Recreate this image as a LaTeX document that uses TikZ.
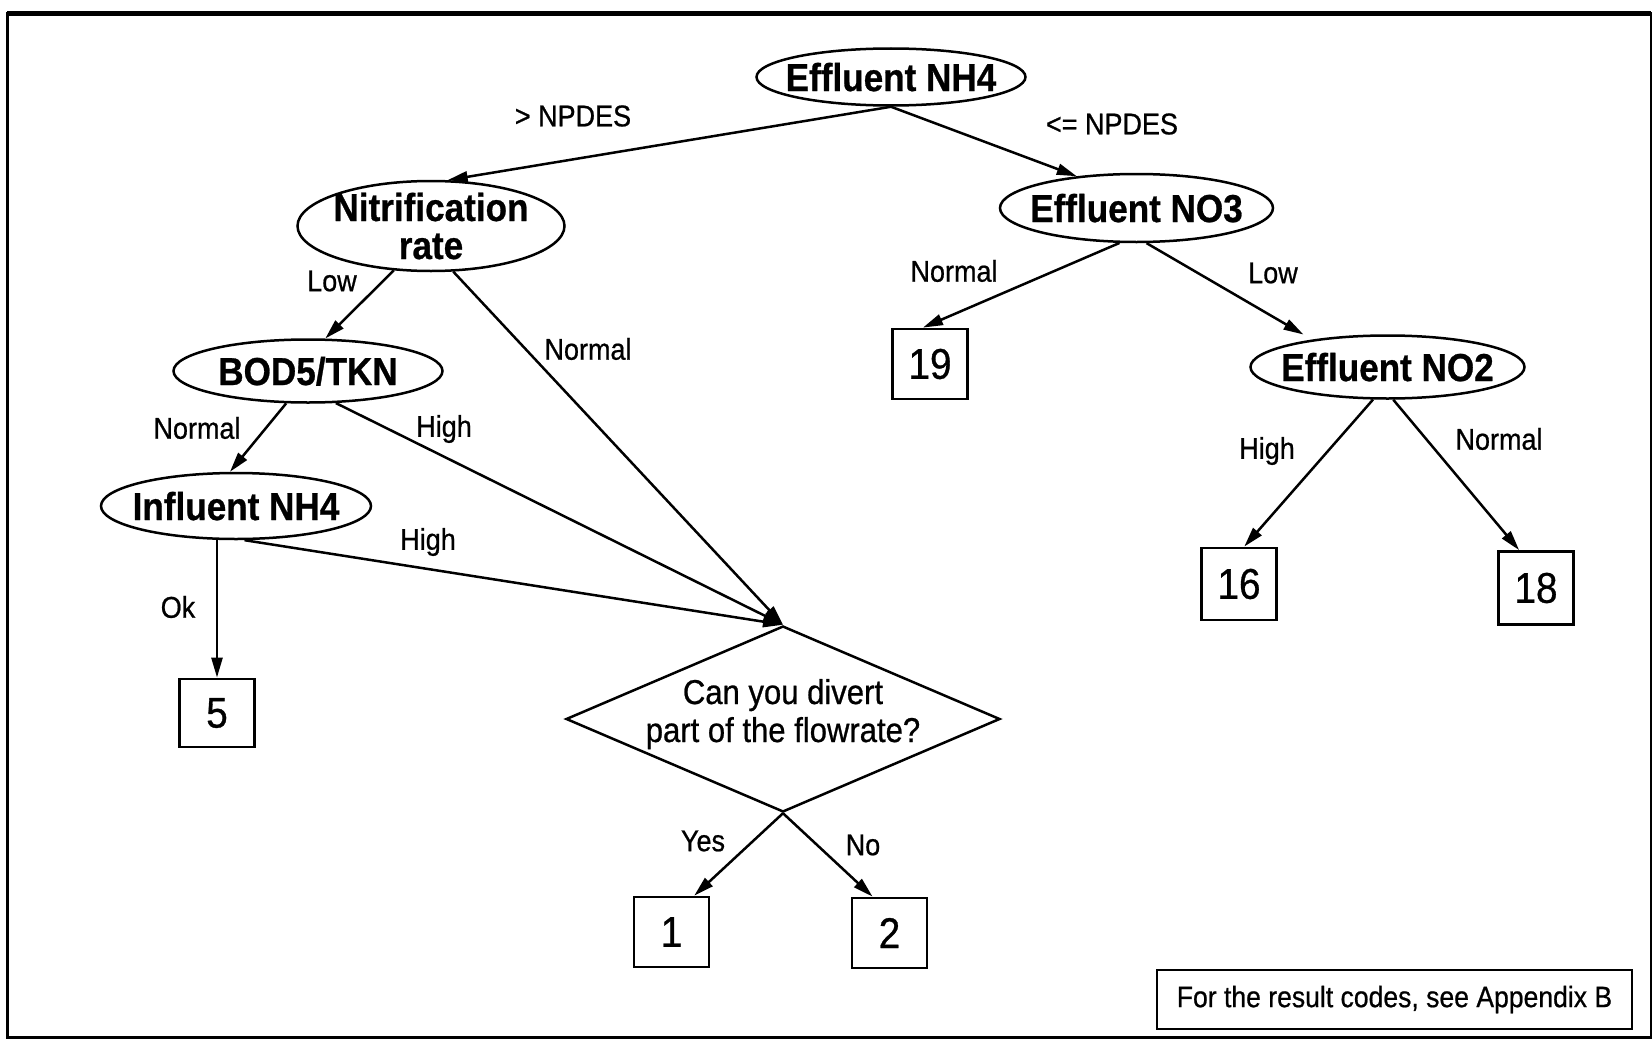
\documentclass[tikz,border=0pt]{standalone}
\usepackage{fontspec}
\setmainfont{Liberation Sans}[FakeStretch=0.9,
  UprightFeatures={FakeBold=0.7}, BoldFeatures={FakeBold=0.7}]
\usetikzlibrary{shapes.geometric,arrows.meta,calc}

% zero-size text lines, so that the shape size is set by its minimum width/height only
\newcommand\oneline[1]{\makebox[0pt]{\raisebox{-0.36em}[0pt][0pt]{#1}}}
\newcommand\atline[2]{\makebox[0pt]{\raisebox{#1}[0pt][0pt]{#2}}}

\begin{document}
\begin{tikzpicture}[x=1pt,y=-1pt,
  oval/.style={ellipse, draw, line width=2.5pt, inner sep=0pt,
               font=\bfseries\fontsize{39}{32}\selectfont},
  result/.style={rectangle, draw, line width=2.8pt, inner sep=0pt,
               minimum width=75pt, minimum height=70pt,
               font=\fontsize{43}{50}\selectfont},
  cond/.style={font=\fontsize{30}{36}\selectfont, inner sep=0pt},
  link/.style={line width=2.5pt, -{Triangle[length=20pt,width=11pt]}},
]
\useasboundingbox (0,0) rectangle (1652,1041);
\draw[line width=3pt] (7,14) rectangle (1651,1037);
\draw[line width=5pt] (7,14) -- (1651,14);

% decision nodes
\node[oval, minimum width=269pt, minimum height=57pt] (nh4e) at (891,77) {\oneline{Effluent NH4}};
\node[oval, minimum width=267pt, minimum height=90pt] (nitr) at (431,226)
  {\atline{5pt}{Nitrification}\atline{-33pt}{rate}};
\node[oval, minimum width=273pt, minimum height=68pt] (no3) at (1136.5,208) {\oneline{Effluent NO3}};
\node[oval, minimum width=269pt, minimum height=63pt] (bod) at (308,371) {\oneline{BOD5/TKN}};
\node[oval, minimum width=270pt, minimum height=66pt] (infl) at (236,506) {\oneline{Influent NH4}};
\node[oval, minimum width=274pt, minimum height=63pt] (no2) at (1387.5,367) {\oneline{Effluent NO2}};
\node[diamond, draw, line width=2.5pt, inner sep=0pt, minimum width=434pt, minimum height=186pt,
      font=\fontsize{34.5}{40}\selectfont] (dia) at (783,719)
  {\atline{15pt}{Can you divert}\atline{-23pt}{part of the flowrate?}};

% result codes
\node[result] (b19) at (930,364) {19};
\node[result, minimum height=72pt] (b16) at (1239,584) {16};
\node[result, minimum height=73pt] (b18) at (1536,588) {18};
\node[result, minimum height=68pt] (b5) at (217,713) {5};
\node[result] (b1) at (671.5,932) {1};
\node[result] (b2) at (889.5,933) {2};

\node[draw, line width=2.5pt, inner sep=0pt, minimum width=475pt, minimum height=59pt,
      font=\fontsize{29.5}{36}\selectfont] (note) at (1394.5,999.5)
  {For the result codes, see Appendix B};

% connectors
\draw[link] (nh4e.south) -- (nitr.70);
\draw[link] (nh4e.south) -- (no3.152);
\draw[link] (nitr.230) -- (bod.62);
\draw[link] (nitr.296) -- (dia.north);
\draw[link] (bod.236) -- (infl.100);
\draw[link] (bod.311) -- (dia.north);
\draw[link] (infl.284) -- (dia.north);
\draw[link] (b5.north |- infl.south) -- (b5.north);
\draw[link] (no3.244) -- (b19.101);
\draw[link, shorten >=10pt] (no3.286) -- (no2.160);
\draw[link] (no2.246) -- (b16.82);
\draw[link] (no2.280) -- (b18.114);
\draw[link] (dia.south) -- (b1.58);
\draw[link] (dia.south) -- (b2.115);

% branch conditions
\node[cond] (c-gt)   at (573,116)  {> NPDES};
\node[cond] (c-le)   at (1112,124) {<= NPDES};
\node[cond] (c-nlow) at (332,281)  {Low};
\node[cond] (c-nnor) at (588,349)  {Normal};
\node[cond] (c-bnor) at (197,428)  {Normal};
\node[cond] (c-bhi)  at (444,429)  {High};
\node[cond] (c-ihi)  at (428,542)  {High};
\node[cond] (c-iok)  at (178,607)  {Ok};
\node[cond] (c-onor) at (954,271)  {Normal};
\node[cond] (c-olow) at (1273,273) {Low};
\node[cond] (c-thi)  at (1267,451) {High};
\node[cond] (c-tnor) at (1499,439) {Normal};
\node[cond] (c-yes)  at (703,841)  {Yes};
\node[cond] (c-no)   at (863,845)  {No};
\end{tikzpicture}
\end{document}
